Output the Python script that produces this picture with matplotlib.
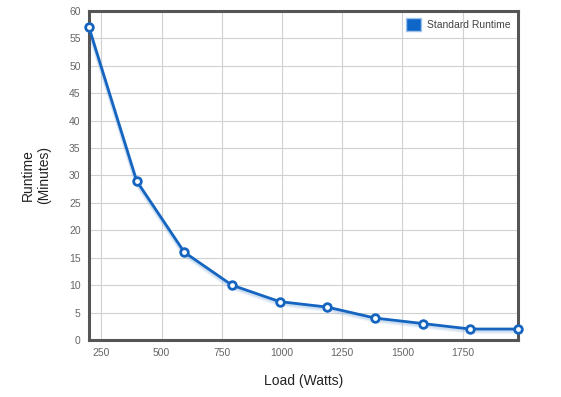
import matplotlib
matplotlib.use("Agg")
import matplotlib.pyplot as plt
import matplotlib.transforms as mtransforms
from matplotlib.patches import Patch

plt.rcParams['font.family'] = ['Liberation Sans', 'DejaVu Sans']

# load in watts and runtime in minutes
load = [198, 396, 594, 792, 990, 1188, 1386, 1584, 1782, 1980]
runtime = [57, 29, 16, 10, 7, 6, 4, 3, 2, 2]
x_ticks = [250, 500, 750, 1000, 1250, 1500, 1750]
y_ticks = [0, 5, 10, 15, 20, 25, 30, 35, 40, 45, 50, 55, 60]
series_name = 'Standard Runtime'

line_col = '#1565c0'

fig = plt.figure(figsize=(5.61, 3.97), dpi=100)
ax = fig.add_axes([0.1586, 0.1436, 0.7648, 0.8287])

# soft shadow under the line
for k, a in [(3, 0.10), (2, 0.15), (1, 0.2)]:
    tr = mtransforms.offset_copy(ax.transData, fig=fig, x=0, y=-k, units='dots')
    ax.plot(load, runtime, color='#7fa9dc', lw=3, alpha=a, transform=tr, zorder=2)

ax.plot(load, runtime, color=line_col, lw=2, marker='o', ms=5.5,
        mfc='white', mec=line_col, mew=2, zorder=4, clip_on=False)

ax.set_xlim(198, 1980)
ax.set_ylim(0, 60)
ax.set_xticks(x_ticks)
ax.set_yticks(y_ticks)
ax.tick_params(length=0, labelsize=7.5, colors='#666666', pad=6)
ax.grid(True, color='#d0d0d0', lw=0.8)
ax.set_axisbelow(True)
for s in ax.spines.values():
    s.set_color('#555555')
    s.set_linewidth(2.2)

ax.set_xlabel('Load (Watts)', fontsize=10, color='#222222', labelpad=11)
ax.set_ylabel('Runtime\n(Minutes)', fontsize=10, color='#222222', labelpad=13)

handle = Patch(facecolor='#0d66c8', edgecolor='#9fc3ea', linewidth=1)
ax.legend([handle], [series_name], loc='upper right', frameon=False,
          fontsize=7.5, handlelength=1.4, handleheight=1.5,
          handletextpad=0.6, borderaxespad=0.3, labelcolor='#444444')

fig.savefig('out.png', dpi=100)
